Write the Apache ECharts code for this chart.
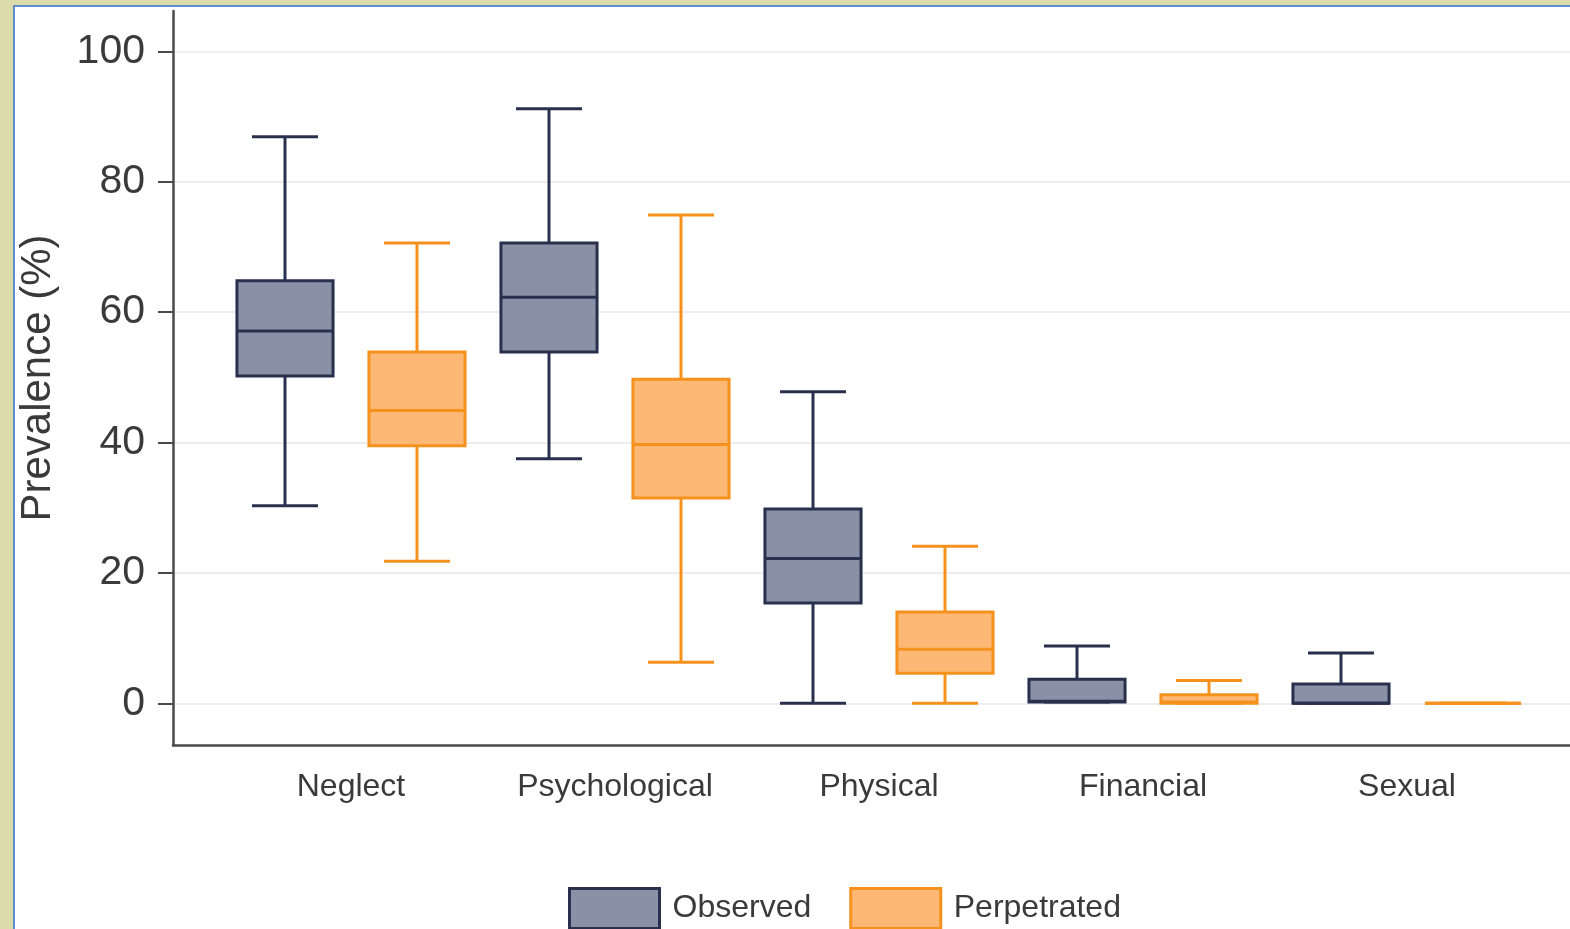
<!DOCTYPE html>
<html>
<head>
<meta charset="utf-8">
<title>Prevalence by abuse type</title>
<script src="https://cdn.jsdelivr.net/npm/echarts@6/dist/echarts.min.js"></script>
<style>
  html, body { margin: 0; padding: 0; width: 1570px; height: 929px; overflow: hidden; background: #dcdcaa; }
  #frame { position: absolute; left: 13px; top: 5px; right: 0; bottom: 0; background: #ffffff;
           border-left: 2px solid #5b8ed2; border-top: 2px solid #5b8ed2; }
  #chart { position: absolute; left: 0; top: 0; width: 1570px; height: 929px; }
</style>
</head>
<body>
<div id="frame"></div>
<div id="chart"></div>
<script>
// Abuse categories on the x axis
const categories = ['Neglect', 'Psychological', 'Physical', 'Financial', 'Sexual'];

// Box statistics per category: [min, Q1, median, Q3, max] in %
const observed = [
  [30.3, 50.2, 57.1, 64.8, 86.9],
  [37.5, 53.9, 62.3, 70.6, 91.2],
  [0, 15.4, 22.2, 29.8, 47.8],
  [0.2, 0.2, 0.3, 3.7, 8.8],
  [0, 0, 0, 2.95, 7.7]
];
const perpetrated = [
  [21.8, 39.5, 44.9, 53.9, 70.6],
  [6.3, 31.5, 39.7, 49.7, 74.9],
  [0, 4.6, 8.3, 14.0, 24.1],
  [0, 0, 0.2, 1.3, 3.5],
  [0, 0, 0, 0, 0]
];

// Y axis tick values
const yTicks = [0, 20, 40, 60, 80, 100];

const FONT = "'Liberation Sans', Arial, sans-serif";
const TEXT = '#3a3a3a';
const AXIS = '#4a4a4a';
const Y_MIN = -6.4, Y_MAX = 106.2;

const styles = {
  Observed: { fill: '#8a91a6', stroke: '#28304e' },
  Perpetrated: { fill: '#fdb876', stroke: '#f5921e' }
};

// Draws one box (whiskers, caps, box and median) offset to one side of its category band
function boxRenderer(side, st) {
  return function (params, api) {
    const band = api.size([1, 0])[0];
    const cx = api.coord([api.value(0), 0])[0] + side * band * 0.25;
    const y = k => api.coord([api.value(0), api.value(k)])[1];
    const yMin = y(1), yQ1 = y(2), yMed = y(3), yQ3 = y(4), yMax = y(5);
    const hb = band * 0.182, hc = band * 0.125;
    const line = (x1, y1, x2, y2, w) => ({
      type: 'line', shape: { x1, y1, x2, y2 },
      style: { stroke: st.stroke, lineWidth: w, lineCap: 'butt' }
    });
    return {
      type: 'group',
      children: [
        line(cx, yQ3, cx, yMax, 3),
        line(cx, yQ1, cx, yMin, 3),
        line(cx - hc, yMax, cx + hc, yMax, 3),
        line(cx - hc, yMin, cx + hc, yMin, 3),
        {
          type: 'rect',
          shape: { x: cx - hb, y: yQ3, width: hb * 2, height: yQ1 - yQ3 },
          style: { fill: st.fill, stroke: st.stroke, lineWidth: 3 }
        },
        line(cx - hb, yMed, cx + hb, yMed, 3)
      ]
    };
  };
}

function boxSeries(name, rows, side) {
  const st = styles[name];
  return {
    name: name,
    type: 'custom',
    xAxisIndex: 1,
    yAxisIndex: 1,
    renderItem: boxRenderer(side, st),
    itemStyle: { color: st.fill, borderColor: st.stroke, borderWidth: 3 },
    encode: { x: 0, y: [1, 2, 3, 4, 5] },
    data: rows.map((r, i) => [i].concat(r))
  };
}

const chart = echarts.init(document.getElementById('chart'), null, { renderer: 'canvas' });

chart.setOption({
  animation: false,
  backgroundColor: 'transparent',
  textStyle: { fontFamily: FONT },
  grid: [
    { left: 173, right: 0, top: 11, bottom: 184, containLabel: false },
    { left: 219, width: 1320, top: 11, bottom: 184, containLabel: false }
  ],
  xAxis: [
    {
      gridIndex: 0, type: 'value', min: 0, max: 1,
      axisLine: { show: true, onZero: false, lineStyle: { color: AXIS, width: 2.5 } },
      axisTick: { show: false }, axisLabel: { show: false }, splitLine: { show: false }
    },
    {
      gridIndex: 1, type: 'category', data: categories,
      axisLine: { show: false, onZero: false }, axisTick: { show: false }, splitLine: { show: false },
      axisLabel: { fontSize: 32, color: TEXT, fontFamily: FONT, margin: 26 }
    }
  ],
  yAxis: [
    {
      gridIndex: 0, type: 'value', min: Y_MIN, max: Y_MAX,
      name: 'Prevalence (%)', nameLocation: 'middle', nameGap: 114,
      nameTextStyle: { fontSize: 42, color: TEXT, fontFamily: FONT },
      axisLine: { show: true, onZero: false, lineStyle: { color: AXIS, width: 2.5 } },
      axisTick: { show: true, length: 15, customValues: yTicks, lineStyle: { color: AXIS, width: 2 } },
      axisLabel: { customValues: yTicks, fontSize: 41, color: TEXT, fontFamily: FONT, margin: 28 },
      splitLine: { show: true, lineStyle: { color: '#ededed', width: 2 } }
    },
    {
      gridIndex: 1, type: 'value', min: Y_MIN, max: Y_MAX, show: false,
      splitLine: { show: false }
    }
  ],
  legend: {
    left: 563, top: 882,
    itemWidth: 90, itemHeight: 40, itemGap: 38,
    icon: 'rect',
    textStyle: { fontSize: 32, color: TEXT, fontFamily: FONT, padding: [0, 0, 0, 8] },
    data: ['Observed', 'Perpetrated'].map(n => ({
      name: n,
      itemStyle: { color: styles[n].fill, borderColor: styles[n].stroke, borderWidth: 3 }
    }))
  },
  series: [
    boxSeries('Observed', observed, -1),
    boxSeries('Perpetrated', perpetrated, 1)
  ]
});
</script>
</body>
</html>
